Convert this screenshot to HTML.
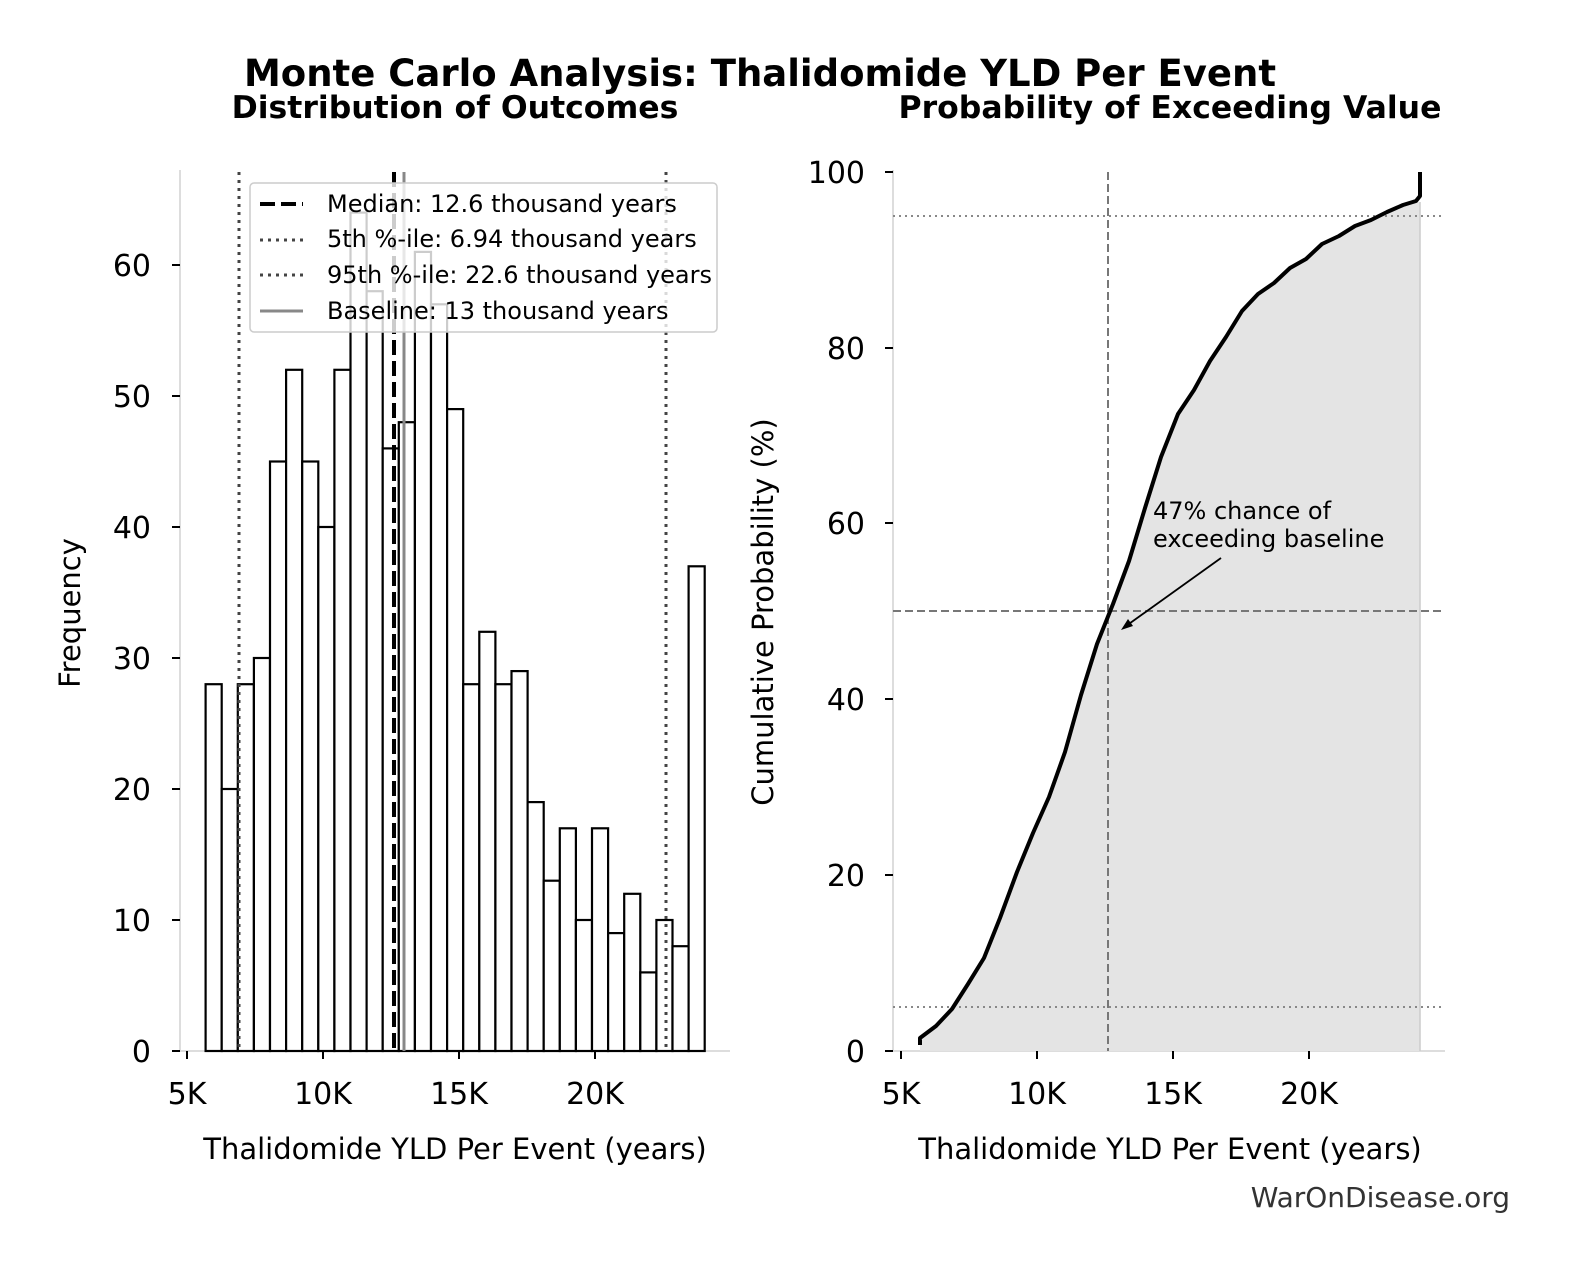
<!DOCTYPE html>
<html><head><meta charset="utf-8"><style>
body{margin:0;background:#fff}
svg text{font-family:"DejaVu Sans","Liberation Sans",sans-serif}
</style></head><body>
<svg width="1580" height="1280" viewBox="0 0 1580 1280" xmlns="http://www.w3.org/2000/svg">
<rect width="1580" height="1280" fill="#fff"/>
<text x="760" y="86" font-size="37" font-weight="bold" text-anchor="middle">Monte Carlo Analysis: Thalidomide YLD Per Event</text>
<text x="455" y="118" font-size="31.5" font-weight="bold" text-anchor="middle">Distribution of Outcomes</text>
<text x="1170" y="118" font-size="31.5" font-weight="bold" text-anchor="middle">Probability of Exceeding Value</text>

<!-- LEFT -->
<line x1="180" y1="170" x2="180" y2="1051" stroke="#ddd" stroke-width="2"/>
<line x1="180" y1="1051" x2="730" y2="1051" stroke="#ddd" stroke-width="2"/>
<g id="bars" fill="#fff" stroke="#000" stroke-width="2.2"></g>
<g stroke="#000" stroke-width="2">
<line x1="172" y1="1051" x2="180" y2="1051"/><line x1="172" y1="920" x2="180" y2="920"/><line x1="172" y1="789" x2="180" y2="789"/><line x1="172" y1="658" x2="180" y2="658"/><line x1="172" y1="527" x2="180" y2="527"/><line x1="172" y1="396" x2="180" y2="396"/><line x1="172" y1="265" x2="180" y2="265"/>
<line x1="187" y1="1051" x2="187" y2="1059"/><line x1="323" y1="1051" x2="323" y2="1059"/><line x1="459" y1="1051" x2="459" y2="1059"/><line x1="595" y1="1051" x2="595" y2="1059"/>
</g>
<g font-size="30" text-anchor="end">
<text x="151" y="1062">0</text><text x="151" y="931">10</text><text x="151" y="800">20</text><text x="151" y="669">30</text><text x="151" y="538">40</text><text x="151" y="407">50</text><text x="151" y="276">60</text>
</g>
<g font-size="30" text-anchor="middle">
<text x="187" y="1104">5K</text><text x="323" y="1104">10K</text><text x="459" y="1104">15K</text><text x="595" y="1104">20K</text>
<text x="455" y="1159" font-size="29">Thalidomide YLD Per Event (years)</text>
</g>
<text transform="translate(80,613) rotate(-90)" font-size="29" text-anchor="middle">Frequency</text>
<line x1="239" y1="172" x2="239" y2="1051" stroke="#444" stroke-width="3" stroke-dasharray="3,5"/>
<line x1="666" y1="172" x2="666" y2="1051" stroke="#444" stroke-width="3" stroke-dasharray="3,5"/>
<line x1="404" y1="172" x2="404" y2="1051" stroke="#888" stroke-width="3"/>
<line x1="394" y1="172" x2="394" y2="1051" stroke="#000" stroke-width="4" stroke-dasharray="15,6"/>
<rect x="250" y="183" width="467" height="149" rx="4" fill="#fff" fill-opacity="0.8" stroke="#ccc" stroke-width="1.5"/>
<line x1="260" y1="204" x2="303" y2="204" stroke="#000" stroke-width="4" stroke-dasharray="15,6"/>
<line x1="260" y1="240" x2="303" y2="240" stroke="#444" stroke-width="3" stroke-dasharray="3,5"/>
<line x1="260" y1="275" x2="303" y2="275" stroke="#444" stroke-width="3" stroke-dasharray="3,5"/>
<line x1="260" y1="311" x2="303" y2="311" stroke="#888" stroke-width="3"/>
<g font-size="24">
<text x="327" y="212">Median: 12.6 thousand years</text>
<text x="327" y="247">5th %-ile: 6.94 thousand years</text>
<text x="327" y="283">95th %-ile: 22.6 thousand years</text>
<text x="327" y="319">Baseline: 13 thousand years</text>
</g>

<!-- RIGHT -->
<line x1="893" y1="170" x2="893" y2="1051" stroke="#ddd" stroke-width="2"/>
<line x1="893" y1="1051" x2="1445" y2="1051" stroke="#ddd" stroke-width="2"/>
<polygon fill="#e4e4e4" points="920,1051 920,1038 936,1026 952,1009 968,984 984,958 1000,918 1017,872 1033,833 1049,797 1065,752 1081,695 1097,644 1113,604 1129,561 1145,508 1161,457 1178,414 1194,390 1210,361 1226,337 1242,311 1258,294 1274,283 1290,268 1306,259 1322,244 1339,236 1355,226 1371,220 1387,212 1403,205 1420,202 1420,1051"/>
<line x1="1420" y1="202" x2="1420" y2="1051" stroke="#ccc" stroke-width="1.5"/>
<line x1="893" y1="216" x2="1445" y2="216" stroke="#888" stroke-width="2" stroke-dasharray="2,4"/>
<line x1="893" y1="1007" x2="1445" y2="1007" stroke="#888" stroke-width="2" stroke-dasharray="2,4"/>
<line x1="893" y1="611" x2="1445" y2="611" stroke="#777" stroke-width="2" stroke-dasharray="8,4"/>
<line x1="1108" y1="172" x2="1108" y2="1051" stroke="#777" stroke-width="2" stroke-dasharray="8,4"/>
<polyline fill="none" stroke="#000" stroke-width="4" stroke-linejoin="round" points="920,1045 920,1038 936,1026 952,1009 968,984 984,958 1000,918 1017,872 1033,833 1049,797 1065,752 1081,695 1097,644 1113,604 1129,561 1145,508 1161,457 1178,414 1194,390 1210,361 1226,337 1242,311 1258,294 1274,283 1290,268 1306,259 1322,244 1339,236 1355,226 1371,220 1387,212 1403,205 1416,201 1420,196 1420,172"/>
<g stroke="#000" stroke-width="2">
<line x1="885" y1="1051" x2="893" y2="1051"/><line x1="885" y1="875" x2="893" y2="875"/><line x1="885" y1="699" x2="893" y2="699"/><line x1="885" y1="523" x2="893" y2="523"/><line x1="885" y1="348" x2="893" y2="348"/><line x1="885" y1="172" x2="893" y2="172"/>
<line x1="901" y1="1051" x2="901" y2="1059"/><line x1="1037" y1="1051" x2="1037" y2="1059"/><line x1="1173" y1="1051" x2="1173" y2="1059"/><line x1="1309" y1="1051" x2="1309" y2="1059"/>
</g>
<g font-size="30" text-anchor="end">
<text x="865" y="1062">0</text><text x="865" y="886">20</text><text x="865" y="710">40</text><text x="865" y="534">60</text><text x="865" y="359">80</text><text x="865" y="183">100</text>
</g>
<g font-size="30" text-anchor="middle">
<text x="901" y="1104">5K</text><text x="1037" y="1104">10K</text><text x="1173" y="1104">15K</text><text x="1309" y="1104">20K</text>
<text x="1170" y="1159" font-size="29">Thalidomide YLD Per Event (years)</text>
</g>
<text transform="translate(773,612) rotate(-90)" font-size="29" text-anchor="middle">Cumulative Probability (%)</text>
<g font-size="24"><text x="1153" y="519">47% chance of</text><text x="1153" y="547">exceeding baseline</text></g>
<line x1="1221" y1="558" x2="1126" y2="626" stroke="#000" stroke-width="1.8"/>
<polygon points="1121,630 1128,619 1133,626" fill="#000"/>
<text x="1510" y="1207" font-size="28" fill="#333" text-anchor="end">WarOnDisease.org</text>
</svg>
<script>
var v=[28,20,28,30,45,52,45,40,52,64,58,46,48,61,57,49,28,32,28,29,19,13,17,10,17,9,12,6,10,8,37];
var g=document.getElementById('bars'),s='';
for(var i=0;i<v.length;i++){var x=205.6+i*16.1,h=v[i]*13.1;
s+='<rect x="'+x.toFixed(1)+'" y="'+(1051-h).toFixed(1)+'" width="16.1" height="'+h.toFixed(1)+'"/>';}
g.innerHTML=s;
</script>
</body></html>
